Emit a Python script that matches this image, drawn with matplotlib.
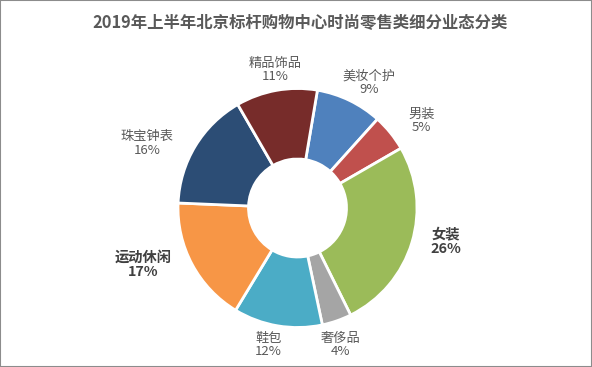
import numpy as np
import matplotlib
matplotlib.use("Agg")
import matplotlib.pyplot as plt
from matplotlib.patches import Rectangle

plt.rcParams['font.family'] = ['Noto Sans CJK SC', 'DejaVu Sans']

categories = ["美妆个护", "男装", "女装", "奢侈品", "鞋包", "运动休闲", "珠宝钟表", "精品饰品"]
shares = [9, 5, 26, 4, 12, 17, 16, 11]
colors = ["#4F81BD", "#C0504D", "#9BBB59", "#A5A5A5", "#4BACC6", "#F79646", "#2C4D75", "#772C2A"]
bold_labels = ["女装", "运动休闲"]

# label placement: (radius factor, angle shift in degrees, clockwise)
label_place = [(1.21, 4), (1.27, 4), (1.27, -4), (1.2, 1.6), (1.17, 2.4), (1.38, 8), (1.37, -8), (1.17, 1)]

fig = plt.figure(figsize=(5.92, 3.67), dpi=100)
ax = fig.add_axes([0, 0, 1, 1])

start = 90 - 9.6  # first slice starts ~9.6 deg clockwise from top
wedges, _ = ax.pie(shares, colors=colors, startangle=start, counterclock=False,
                   radius=1.0, wedgeprops=dict(width=0.59, edgecolor="white", linewidth=2))

total = sum(shares)
for w, cat, val, (rf, shift) in zip(wedges, categories, shares, label_place):
    mid = (w.theta1 + w.theta2) / 2 - shift
    x = rf * np.cos(np.radians(mid))
    y = rf * np.sin(np.radians(mid))
    is_bold = cat in bold_labels
    ax.text(x, y, f"{cat}\n{val / total * 100:.0f}%", ha="center", va="center",
            fontsize=10.3 if is_bold else 9.5,
            fontweight="bold" if is_bold else "normal",
            color="#404040" if is_bold else "#595959", linespacing=1.05)

# map data units so that the donut sits where it does in the original
px_per_unit = 119.5
cx, cy = 297.5, 367 - 208
ax.set_aspect("auto")
ax.set_xlim(-cx / px_per_unit, (592 - cx) / px_per_unit)
ax.set_ylim(-cy / px_per_unit, (367 - cy) / px_per_unit)
ax.axis("off")

fig.text(300.5 / 592, 1 - 22.5 / 367, "2019年上半年北京标杆购物中心时尚零售类细分业态分类",
         ha="center", va="center", fontsize=11.8, fontweight="bold", color="#595959")

fig.patches.append(Rectangle((0, 0), 1, 1, transform=fig.transFigure, fill=False,
                             edgecolor="#8c8c8c", linewidth=1.5))

fig.savefig("out.png", dpi=100)
